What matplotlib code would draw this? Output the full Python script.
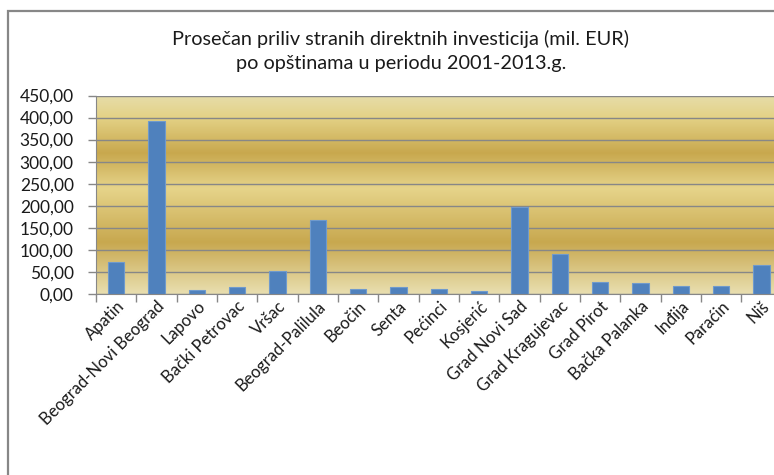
import numpy as np
import matplotlib
matplotlib.use("Agg")
from matplotlib import pyplot
from matplotlib.colors import LinearSegmentedColormap
from matplotlib.patches import Rectangle
from matplotlib.ticker import FuncFormatter, FixedLocator
plt = pyplot

# Podaci (procitani sa grafika)
opstine = ['Apatin', 'Beograd-Novi Beograd', 'Lapovo', 'Bački Petrovac', 'Vršac',
           'Beograd-Palilula', 'Beočin', 'Senta', 'Pećinci', 'Kosjerić',
           'Grad Novi Sad', 'Grad Kragujevac', 'Grad Pirot', 'Bačka Palanka',
           'Inđija', 'Paraćin', 'Niš']
priliv = [72, 392, 9, 16, 52, 168, 11, 16, 11, 7, 198, 90, 27, 25, 18, 18, 65]
yticks = [0, 50, 100, 150, 200, 250, 300, 350, 400, 450]
naslov = 'Prosečan priliv stranih direktnih investicija (mil. EUR)\npo opštinama u periodu 2001-2013.g.'

plt.rcParams['font.family'] = ['Lato', 'DejaVu Sans']

fig = plt.figure(figsize=(7.74, 4.75), dpi=100)
# okvir oko grafika (desna i donja ivica su odsecene)
fig.patches.append(Rectangle((7.5 / 774, -0.2), 1.2, 0.2 + (475 - 11) / 475,
                             transform=fig.transFigure, fill=False,
                             edgecolor='#878787', linewidth=1.6))

ax = fig.add_axes([96 / 774, 181 / 475, 685.6 / 774, 198.5 / 475])

n = len(opstine)
x = np.arange(n)

# zlatna pozadina sa gradijentom
zlato = LinearSegmentedColormap.from_list('zlato', [
    (0.0, '#e9dfb0'), (0.26, '#c8a84f'), (0.53, '#e6d48a'),
    (0.71, '#c8a84e'), (0.89, '#e4d286'), (1.0, '#e6ddaa')])
grad = np.linspace(0, 1, 256).reshape(-1, 1)
ax.imshow(grad, cmap=zlato, origin='lower', aspect='auto',
          extent=[-0.5, n - 0.5, 0, 450], zorder=0)

ax.bar(x, priliv, width=0.4, color='#4f81bd', edgecolor='#6f9acd',
       linewidth=0.8, zorder=3)

ax.set_xlim(-0.5, n - 0.5)
ax.set_ylim(0, 450)
ax.yaxis.set_major_locator(FixedLocator(yticks))
ax.yaxis.set_major_formatter(FuncFormatter(lambda v, p: '{:.2f}'.format(v).replace('.', ',')))
ax.grid(axis='y', color='#878787', linewidth=1.0, zorder=1)
ax.set_axisbelow(True)

ax.set_xticks(x)
ax.set_xticklabels(opstine, rotation=45, ha='right', va='top',
                   rotation_mode='anchor', fontsize=12, color='#1a1a1a')
ax.tick_params(axis='x', which='major', length=0, pad=3)
ax.set_xticks(np.arange(-0.5, n, 1.0), minor=True)
ax.tick_params(axis='x', which='minor', length=6, color='#878787', width=1)
ax.tick_params(axis='y', length=6, color='#878787', width=1, labelsize=12.5,
               labelcolor='#1a1a1a', pad=10)

for s in ['top', 'right']:
    ax.spines[s].set_visible(False)
ax.spines['left'].set_color('#878787')
ax.spines['bottom'].set_color('#878787')
ax.spines['left'].set_zorder(4)
ax.spines['bottom'].set_zorder(4)

fig.text(401 / 774, 1 - 51 / 475, naslov, ha='center', va='center',
         fontsize=14.3, color='#1a1a1a', linespacing=1.55)

fig.savefig('out.png', dpi=100)
